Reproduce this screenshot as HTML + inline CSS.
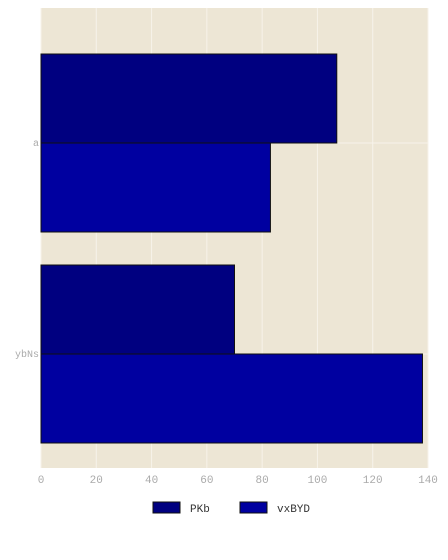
<!DOCTYPE html>
<html><head><meta charset="utf-8"><style>
body{margin:0;background:#fff;width:448px;height:560px;overflow:hidden}
svg{display:block}
text{font-family:"Liberation Mono",monospace}
</style></head><body>
<svg id="c" width="448" height="560"></svg>
<script>
const categories=["a","ybNs"];
const seriesNames=["PKb","vxBYD"];
const pkbValues=[107,70];
const vxbydValues=[83,138];
const xTicks=[0,20,40,60,80,100,120,140];
const colors=["#000080","#0000a0"];
const NS="http://www.w3.org/2000/svg";
const svg=document.getElementById("c");
const L=41,R=428,T=8,B=468,xMax=140;
const x=v=>L+v/xMax*(R-L);
const firstCenter=T+135,step=211;
const cy=i=>firstCenter+step*i;
function el(t,a){const e=document.createElementNS(NS,t);for(const k in a)e.setAttribute(k,a[k]);svg.appendChild(e);return e;}
const bg=el("rect",{x:L,y:T,width:R-L,height:B-T,fill:"#ede6d5"});


xTicks.forEach(v=>{
  const g=el("line",{x1:x(v),x2:x(v),y1:T,y2:B,stroke:"#f7f3ea","stroke-width":1});
  
  
  const t=el("text",{x:x(v),y:B+15,"text-anchor":"middle","font-size":11,fill:"#aaa"});
  t.textContent=v;
  
  
});
categories.forEach((c,i)=>{
  const g=el("line",{x1:L,x2:R,y1:cy(i),y2:cy(i),stroke:"#f7f3ea","stroke-width":1});
  
  
  const t=el("text",{x:L-2,y:cy(i)+3,"text-anchor":"end","font-size":10,fill:"#aaa"});
  t.textContent=c;
  
  
});
const bh=89;
[pkbValues,vxbydValues].forEach((vals,s)=>{
  vals.forEach((v,i)=>{
    const y0=s===0?cy(i)-bh:cy(i);
    const r=el("rect",{x:x(0),y:y0,width:x(v)-x(0),height:bh,fill:colors[s],stroke:"#111","stroke-width":1});
    
    
  });
});
const lx=[153,240];
seriesNames.forEach((n,s)=>{
  const r=el("rect",{x:lx[s],y:502,width:27,height:11,fill:colors[s],stroke:"#111","stroke-width":1});
  
  
  const t=el("text",{x:lx[s]+37,y:512,"font-size":11,fill:"#333"});
  t.textContent=n;
  
  
});
</script>
</body></html>
